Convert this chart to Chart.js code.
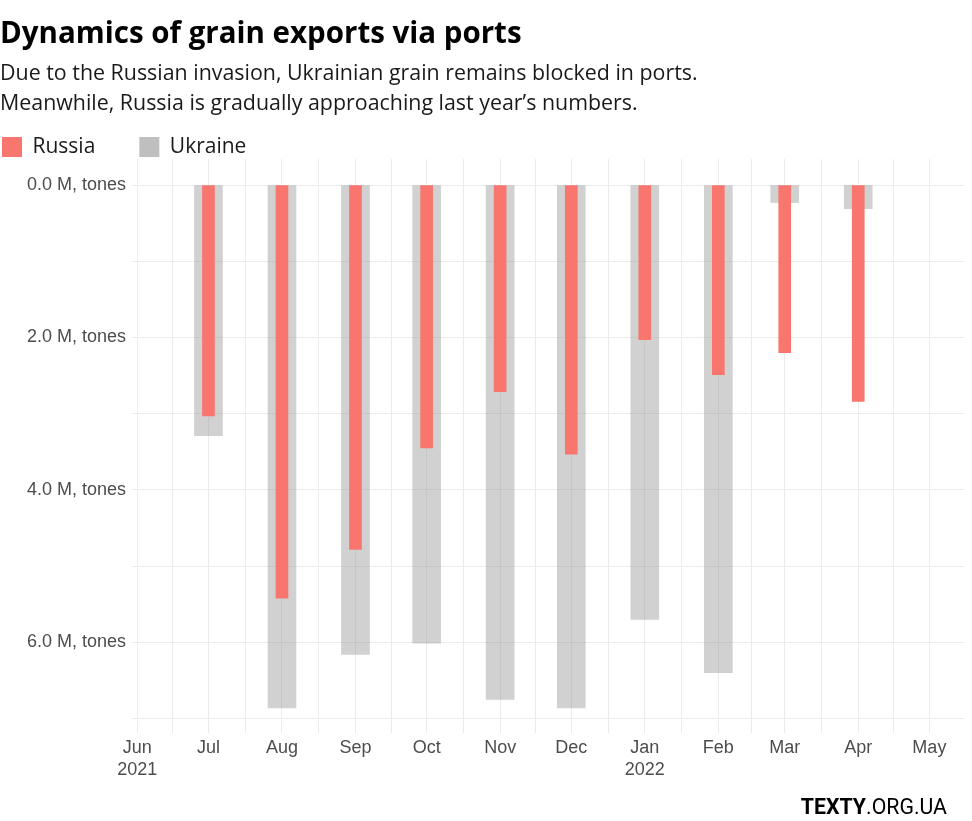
<!DOCTYPE html>
<html><head><meta charset="utf-8">
<script src="https://cdn.jsdelivr.net/npm/chart.js@4.4.1/dist/chart.umd.min.js"></script>
<style>html,body{margin:0;padding:0;background:#fff}#wrap{width:972px;height:821px;position:relative}</style>
</head><body><div id="wrap"><canvas id="c" width="972" height="821"></canvas></div>
<script>
const months = ['2021-07-01','2021-08-01','2021-09-01','2021-10-01','2021-11-01','2021-12-01','2022-01-01','2022-02-01','2022-03-01','2022-04-01'];
const russia = [3.03, 5.42, 4.78, 3.45, 2.71, 3.53, 2.03, 2.49, 2.20, 2.84];
const ukraine = [3.29, 6.86, 6.16, 6.01, 6.75, 6.86, 5.70, 6.40, 0.23, 0.31];
const tickMonths = ['2021-06-01','2021-07-01','2021-08-01','2021-09-01','2021-10-01','2021-11-01','2021-12-01','2022-01-01','2022-02-01','2022-03-01','2022-04-01','2022-05-01'];
const tickLabels = [['Jun','2021'],'Jul','Aug','Sep','Oct','Nov','Dec',['Jan','2022'],'Feb','Mar','Apr','May'];
const yTicks = [0,1,2,3,4,5,6,7];
const yTickLabels = ['0.0 M, tones','','2.0 M, tones','','4.0 M, tones','','6.0 M, tones',''];
const seriesNames = ['Russia','Ukraine'];
const titleText = 'Dynamics of grain exports via ports';
const subtitleText = ['Due to the Russian invasion, Ukrainian grain remains blocked in ports.','Meanwhile, Russia is gradually approaching last year\u2019s numbers.'];

const origin = Date.UTC(2021,5,1);
const day = s => (Date.parse(s + 'T00:00:00Z') - origin) / 86400000;
const majorDays = tickMonths.map(day);
const minorDays = majorDays.slice(0,-1).map((d,i)=>(d+majorDays[i+1])/2);
const labelMap = new Map(majorDays.map((d,i)=>[d, tickLabels[i]]));

const LEG_PAD = 44;
const legendKeyColors = ['#F8766D','#bfbfbf'];
const layoutFix = {
  id:'layoutFix',
  afterLayout(chart){
    const lg = chart.legend;
    lg.left = 2 - LEG_PAD;
    lg.top = 136.5 - LEG_PAD;
    lg.right = 972;
    lg.bottom = 159;
    lg.width = lg.right - lg.left;
    lg.height = lg.bottom - lg.top;
  },
  afterDraw(chart){
    const ctx = chart.ctx;
    ctx.save();
    ctx.fillStyle = '#000';
    ctx.textBaseline = 'alphabetic';
    ctx.font = 'bold 21.3px Roboto';
    const w1 = ctx.measureText('TEXTY').width;
    ctx.font = '21.3px Roboto';
    const w2 = ctx.measureText('.ORG.UA').width;
    const x0 = 947 - w1 - w2;
    ctx.font = 'bold 21.3px Roboto';
    ctx.fillText('TEXTY', x0, 814);
    ctx.font = '21.3px Roboto';
    ctx.fillText('.ORG.UA', x0 + w1, 814);
    ctx.restore();
  }
};

const tickFont = {family:'Liberation Sans', size:18};
new Chart(document.getElementById('c'), {
  type:'bar',
  data:{
    datasets:[
      {label:seriesNames[0], data:months.map((m,i)=>({x:day(m), y:russia[i]})), backgroundColor:'#F8766D', barThickness:12, grouped:false},
      {label:seriesNames[1], data:months.map((m,i)=>({x:day(m), y:ukraine[i]})), backgroundColor:'rgba(153,153,153,0.45)', barThickness:28, grouped:false}
    ]
  },
  options:{
    responsive:false, animation:false, devicePixelRatio:1,
    layout:{padding:{left:0,right:8,top:0,bottom:38}},
    plugins:{
      title:{display:true, text:titleText, align:'start', color:'#000', font:{family:'Open Sans', size:29.5, weight:'bold', lineHeight:1.2}, padding:{top:17,bottom:0}},
      subtitle:{display:true, text:subtitleText, align:'start', color:'#1a1a1a', font:{family:'Open Sans', size:21.4, lineHeight:1.4}, padding:{top:6.5,bottom:0}},
      legend:{display:true, position:'top', align:'start', maxHeight:40.2,
        labels:{boxWidth:20, boxHeight:20, padding:LEG_PAD, color:'#1a1a1a', font:{family:'Open Sans', size:21},
          generateLabels(chart){
            const items = Chart.defaults.plugins.legend.labels.generateLabels(chart);
            items.forEach((it,i)=>{ it.fillStyle = legendKeyColors[i]; it.strokeStyle = legendKeyColors[i]; it.lineWidth = 0; });
            return items;
          }}},
      tooltip:{enabled:false}
    },
    scales:{
      x:{type:'linear', min:-2.24, max:348.6, offset:false,
        afterBuildTicks(scale){ scale.ticks = majorDays.concat(minorDays).sort((a,b)=>a-b).map(v=>({value:v})); },
        afterFit(scale){ scale.height = 50; },
        grid:{color:'#ebebeb', lineWidth:1, drawTicks:false, offset:false},
        border:{display:false},
        ticks:{autoSkip:false, maxRotation:0, minRotation:0, padding:4.5, color:'#4d4d4d', font:tickFont,
          callback(v){ return labelMap.has(v) ? labelMap.get(v) : ''; }}
      },
      y:{type:'linear', reverse:true, min:-0.341, max:7.19,
        afterBuildTicks(scale){ scale.ticks = yTicks.map(v=>({value:v})); },
        afterFit(scale){ scale.width = 132; },
        grid:{color:'#ebebeb', lineWidth:1, drawTicks:false},
        border:{display:false},
        ticks:{padding:6, color:'#4d4d4d', font:tickFont,
          callback(v){ const i = yTicks.indexOf(v); return i>=0 ? yTickLabels[i] : ''; }}
      }
    }
  },
  plugins:[layoutFix]
});
</script></body></html>
